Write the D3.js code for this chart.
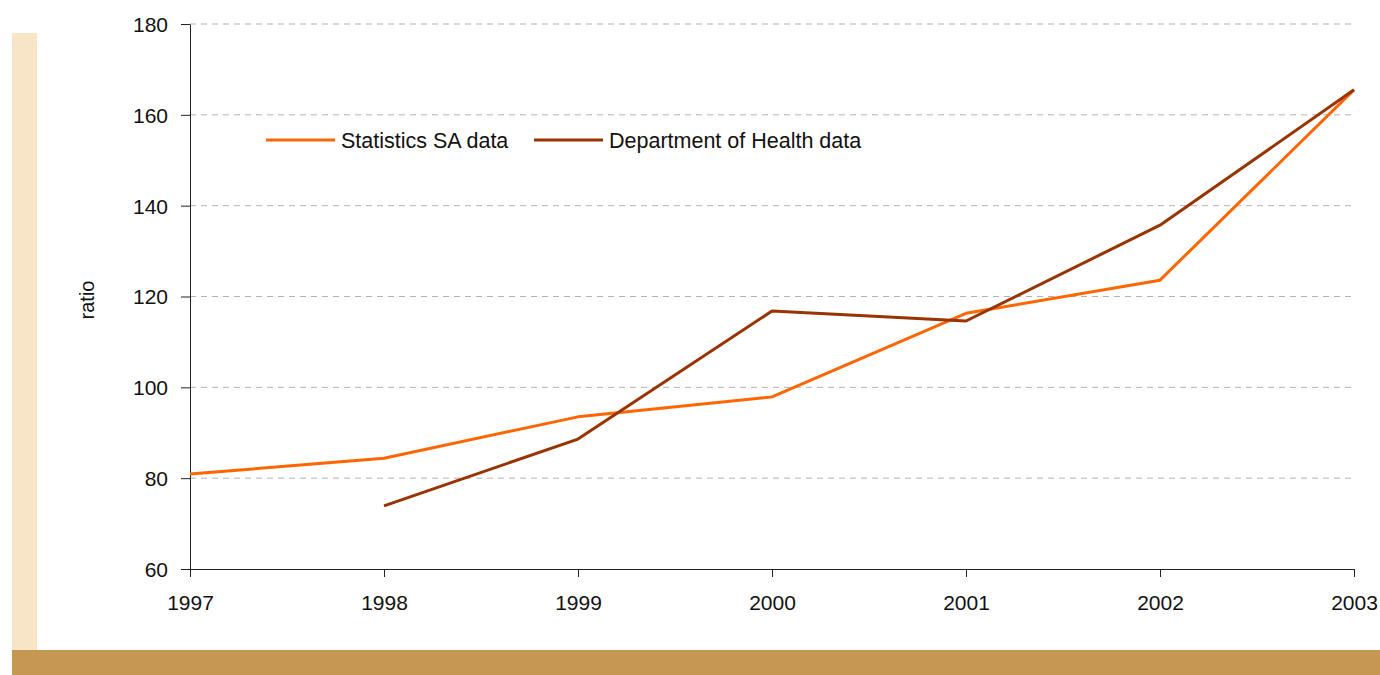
<!DOCTYPE html>
<html>
<head>
    <meta charset="utf-8">
    <title>ratio 1997-2003</title>
    <script src="https://cdnjs.cloudflare.com/ajax/libs/d3/7.8.5/d3.min.js"></script>
    <style>
        body { margin: 0; background: #fff; }
        svg { display: block; font-family: "Liberation Sans", Arial, sans-serif; }
        .axis text { font-size: 21px; fill: #111; }
        .axis path, .axis line { stroke: #222; }
    </style>
</head>
<body>
<svg width="1380" height="675"></svg>
<script>
    // data
    var years = [1997, 1998, 1999, 2000, 2001, 2002, 2003];
    var statsSA = [80.9, 84.4, 93.5, 97.9, 116.3, 123.6, 165.5];
    var deptHealth = [null, 73.9, 88.6, 116.8, 114.6, 135.7, 165.5];
    var yTicks = [60, 80, 100, 120, 140, 160, 180];
    var seriesNames = ["Statistics SA data", "Department of Health data"];
    var seriesColors = ["#ff6600", "#993300"];

    var svg = d3.select("svg");

    // background decoration
    svg.append("rect").attr("x", 12).attr("y", 33).attr("width", 25).attr("height", 617).attr("fill", "#f8e5c8");
    svg.append("rect").attr("x", 12).attr("y", 650).attr("width", 1368).attr("height", 25).attr("fill", "#c69752");

    var x = d3.scaleLinear().domain([1997, 2003]).range([190, 1354]);
    var y = d3.scaleLinear().domain([60, 180]).range([569, 24]);

    // grid
    svg.append("g").selectAll("line")
        .data(yTicks.filter(function(d) { return d > 60; }))
        .enter().append("line")
        .attr("x1", x(1997)).attr("x2", x(2003))
        .attr("y1", function(d) { return y(d); })
        .attr("y2", function(d) { return y(d); })
        .attr("stroke", "#b3b3b3")
        .attr("stroke-width", 1)
        .attr("stroke-dasharray", "6,5");

    svg.append("g")
        .attr("class", "axis")
        .attr("transform", "translate(" + x(1997) + ",0)")
        .call(d3.axisLeft(y).tickValues(yTicks).tickSize(9).tickSizeOuter(0).tickPadding(13))
        .call(function(g) { g.selectAll("text").attr("dy", "0.35em"); });

    svg.append("g")
        .attr("class", "axis")
        .attr("transform", "translate(0," + y(60) + ")")
        .call(d3.axisBottom(x).tickValues(years).tickFormat(d3.format("d")).tickSize(8).tickSizeOuter(0).tickPadding(18));

    svg.append("text")
        .attr("transform", "translate(94,300) rotate(-90)")
        .attr("text-anchor", "middle")
        .style("font-size", "20px")
        .attr("fill", "#111")
        .text("ratio");

    var line = d3.line()
        .defined(function(d) { return d.v != null; })
        .x(function(d) { return x(d.year); })
        .y(function(d) { return y(d.v); });

    [statsSA, deptHealth].forEach(function(vals, i) {
        var pts = years.map(function(yr, j) { return { year: yr, v: vals[j] }; });
        svg.append("path")
            .datum(pts)
            .attr("d", line)
            .attr("fill", "none")
            .attr("stroke", seriesColors[i])
            .attr("stroke-width", 3)
            .attr("stroke-linejoin", "round");
    });

    // legend
    var legendX = [266, 534];
    var lg = svg.append("g").selectAll("g").data(seriesNames).enter().append("g")
        .attr("transform", function(d, i) { return "translate(" + legendX[i] + ",140)"; });
    lg.append("line").attr("x1", 0).attr("x2", 69).attr("y1", 0).attr("y2", 0)
        .attr("stroke", function(d, i) { return seriesColors[i]; })
        .attr("stroke-width", 3);
    lg.append("text").attr("x", 75).attr("y", 7.5)
        .style("font-size", "21.5px")
        .attr("fill", "#111")
        .text(function(d) { return d; });
</script>
</body>
</html>
